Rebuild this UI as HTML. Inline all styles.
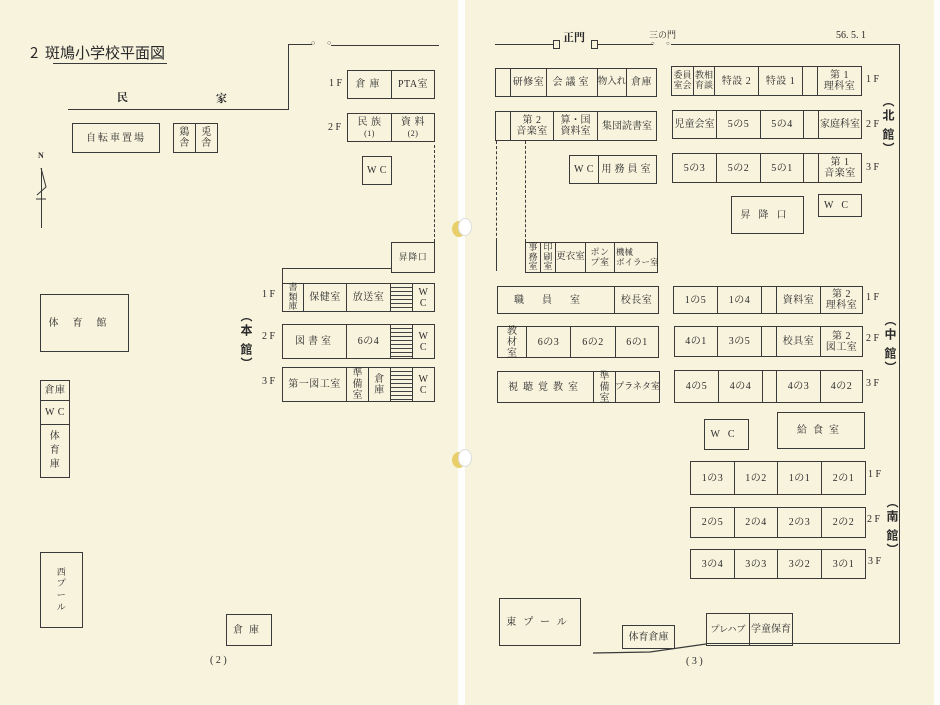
<!DOCTYPE html>
<html><head><meta charset="utf-8">
<style>
*{margin:0;padding:0;box-sizing:border-box}
body{width:940px;height:705px;position:relative;overflow:hidden;background:#f7f3dd;font-family:"Liberation Serif","Noto Serif CJK SC",serif;color:#2a2a2a}
.c{position:absolute;border:1.2px solid #3a3a3a;display:flex;align-items:center;justify-content:center;text-align:center;font-size:10px;line-height:1.1;letter-spacing:0.5px;white-space:nowrap}
.t{position:absolute;font-size:10px;white-space:nowrap;line-height:1}
.h{position:absolute;height:0;border-top:1.2px solid #3a3a3a}
.v{position:absolute;width:0;border-left:1.2px solid #3a3a3a}
.dv{position:absolute;width:0;border-left:1.2px dashed #3a3a3a}
.st{background:repeating-linear-gradient(#f7f3dd 0 3px,#444 3px 4px)}
.vt{position:absolute;writing-mode:vertical-rl;font-size:12px;font-weight:bold;letter-spacing:2px;font-family:"Noto Sans CJK SC",sans-serif}
.s{font-size:8px}
</style></head><body>
<div style="position:absolute;left:458px;top:0;width:7px;height:705px;background:#fdfdfb"></div>
<div style="position:absolute;left:934px;top:0;width:6px;height:705px;background:#fdfdfb"></div>
<div style="position:absolute;left:452px;top:221px;width:14px;height:16px;border-radius:50%;background:#e8cf6a"></div>
<div style="position:absolute;left:458px;top:218px;width:14px;height:18px;border-radius:50%;background:#fff;border:1px solid #ddd"></div>
<div style="position:absolute;left:452px;top:452px;width:14px;height:16px;border-radius:50%;background:#e8cf6a"></div>
<div style="position:absolute;left:458px;top:449px;width:14px;height:18px;border-radius:50%;background:#fff;border:1px solid #ddd"></div>

<!-- LEFT PAGE -->
<div class="t" style="left:30px;top:45px;font-size:15px;font-family:'Noto Sans CJK SC',sans-serif">2&nbsp;&nbsp;斑鳩小学校平面図</div>
<div class="h" style="left:53px;top:63px;width:114px"></div>
<div class="h" style="left:68px;top:109px;width:221px"></div>
<div class="v" style="left:288px;top:44px;height:66px"></div>
<div class="h" style="left:288px;top:44px;width:24px"></div>
<div class="t" style="left:311px;top:40px;font-size:7px">○</div>
<div class="t" style="left:327px;top:40px;font-size:7px">○</div>
<div class="h" style="left:331px;top:45px;width:108px"></div>
<div class="t" style="left:117px;top:93px;font-size:11px;font-weight:bold">民</div>
<div class="t" style="left:216px;top:94px;font-size:11px;font-weight:bold">家</div>
<div class="c" style="left:72px;top:123px;width:88px;height:30px;letter-spacing:2px">自転車置場</div>
<div class="c" style="left:173px;top:123px;width:23px;height:30px">鶏<br>舎</div>
<div class="c" style="left:195px;top:123px;width:23px;height:30px">兎<br>舎</div>
<div class="t" style="left:38px;top:152px;font-size:8px;font-weight:bold">N</div>
<div class="v" style="left:41px;top:168px;height:60px"></div>
<svg style="position:absolute;left:34px;top:165px" width="16" height="40"><polyline points="7,3 12,22 3,30" fill="none" stroke="#333" stroke-width="1"/><line x1="2" y1="34" x2="12" y2="34" stroke="#333"/></svg>

<div class="t" style="left:329px;top:79px">1 F</div>
<div class="c" style="left:347px;top:70px;width:45px;height:29px;letter-spacing:4px">倉庫</div>
<div class="c" style="left:391px;top:70px;width:44px;height:29px">PTA室</div>
<div class="t" style="left:328px;top:123px">2 F</div>
<div class="c" style="left:347px;top:113px;width:45px;height:29px"><div>民 族<br><span class="s">(1)</span></div></div>
<div class="c" style="left:391px;top:113px;width:44px;height:29px"><div>資 料<br><span class="s">(2)</span></div></div>
<div class="c" style="left:362px;top:156px;width:30px;height:29px">W C</div>
<div class="dv" style="left:434px;top:145px;height:97px"></div>
<div class="c" style="left:391px;top:242px;width:44px;height:31px;font-size:9px">昇降口</div>
<div class="h" style="left:282px;top:268px;width:109px"></div>
<div class="v" style="left:282px;top:268px;height:20px"></div>

<div class="t" style="left:262px;top:290px">1 F</div>
<div class="c" style="left:282px;top:283px;width:22px;height:29px;font-size:9px;letter-spacing:0">書<br>類<br>庫</div>
<div class="c" style="left:303px;top:283px;width:44px;height:29px">保健室</div>
<div class="c" style="left:346px;top:283px;width:45px;height:29px">放送室</div>
<div class="c st" style="left:390px;top:283px;width:23px;height:29px"></div>
<div class="c" style="left:412px;top:283px;width:23px;height:29px">W<br>C</div>

<div class="vt" style="left:238px;top:310px">︵本&nbsp;館︶</div>

<div class="t" style="left:262px;top:332px">2 F</div>
<div class="c" style="left:282px;top:324px;width:65px;height:35px;letter-spacing:3px">図書室</div>
<div class="c" style="left:346px;top:324px;width:45px;height:35px">6の4</div>
<div class="c st" style="left:390px;top:324px;width:23px;height:35px"></div>
<div class="c" style="left:412px;top:324px;width:23px;height:35px">W<br>C</div>

<div class="t" style="left:262px;top:377px">3 F</div>
<div class="c" style="left:282px;top:367px;width:65px;height:35px">第一図工室</div>
<div class="c" style="left:346px;top:367px;width:23px;height:35px;letter-spacing:0">準<br>備<br>室</div>
<div class="c" style="left:368px;top:367px;width:23px;height:35px">倉<br>庫</div>
<div class="c st" style="left:390px;top:367px;width:23px;height:35px"></div>
<div class="c" style="left:412px;top:367px;width:23px;height:35px">W<br>C</div>

<div class="c" style="left:40px;top:294px;width:89px;height:58px;letter-spacing:14px">体育館</div>
<div class="c" style="left:40px;top:380px;width:30px;height:21px">倉庫</div>
<div class="c" style="left:40px;top:400px;width:30px;height:25px">W C</div>
<div class="c" style="left:40px;top:424px;width:30px;height:54px;line-height:1.4">体<br>育<br>庫</div>
<div class="c" style="left:40px;top:552px;width:43px;height:76px;font-size:9px;line-height:1.3">西<br>プ<br>ー<br>ル</div>
<div class="c" style="left:226px;top:614px;width:46px;height:32px;letter-spacing:6px">倉庫</div>
<div class="t" style="left:210px;top:656px">( 2 )</div>

<!-- RIGHT PAGE -->
<div class="h" style="left:495px;top:44px;width:58px"></div>
<div class="c" style="left:553px;top:40px;width:7px;height:9px"></div>
<div class="t" style="left:563px;top:33px;font-size:11px;font-weight:bold">正門</div>
<div class="c" style="left:591px;top:40px;width:7px;height:9px"></div>
<div class="h" style="left:598px;top:44px;width:55px"></div>
<div class="t" style="left:651px;top:41px;font-size:6px">○</div>
<div class="t" style="left:649px;top:31px;font-size:9px">三の門</div>
<div class="t" style="left:666px;top:41px;font-size:6px">○</div>
<div class="h" style="left:671px;top:44px;width:228px"></div>
<div class="v" style="left:899px;top:44px;height:600px"></div>
<div class="h" style="left:706px;top:643px;width:194px"></div>
<svg style="position:absolute;left:590px;top:640px" width="120" height="16"><polyline points="3,13 60,12 116,4" fill="none" stroke="#3a3a3a" stroke-width="1.2"/></svg>
<div class="t" style="left:836px;top:31px">56.&nbsp;5.&nbsp;1</div>

<div class="c" style="left:495px;top:68px;width:16px;height:29px"></div>
<div class="c" style="left:510px;top:68px;width:37px;height:29px">研修室</div>
<div class="c" style="left:546px;top:68px;width:52px;height:29px;letter-spacing:3px">会議室</div>
<div class="c" style="left:597px;top:68px;width:30px;height:29px;letter-spacing:0;font-size:9.5px">物入れ</div>
<div class="c" style="left:626px;top:68px;width:31px;height:29px">倉庫</div>
<div class="c" style="left:671px;top:66px;width:23px;height:30px;font-size:9px;letter-spacing:0">委員<br>室会</div>
<div class="c" style="left:693px;top:66px;width:22px;height:30px;font-size:9px;letter-spacing:0">教相<br>育談</div>
<div class="c" style="left:714px;top:66px;width:45px;height:30px">特設 2</div>
<div class="c" style="left:758px;top:66px;width:45px;height:30px">特設 1</div>
<div class="c" style="left:802px;top:66px;width:16px;height:30px"></div>
<div class="c" style="left:817px;top:66px;width:45px;height:30px">第 1<br>理科室</div>
<div class="t" style="left:866px;top:75px">1 F</div>

<div class="c" style="left:495px;top:111px;width:16px;height:30px"></div>
<div class="c" style="left:510px;top:111px;width:44px;height:30px">第 2<br>音楽室</div>
<div class="c" style="left:553px;top:111px;width:45px;height:30px;letter-spacing:0">算・国<br>資料室</div>
<div class="c" style="left:597px;top:111px;width:60px;height:30px;letter-spacing:0">集団読書室</div>
<div class="c" style="left:672px;top:110px;width:45px;height:29px;letter-spacing:0">児童会室</div>
<div class="c" style="left:716px;top:110px;width:45px;height:29px">5の5</div>
<div class="c" style="left:760px;top:110px;width:44px;height:29px">5の4</div>
<div class="c" style="left:803px;top:110px;width:16px;height:29px"></div>
<div class="c" style="left:818px;top:110px;width:44px;height:29px;letter-spacing:0">家庭科室</div>
<div class="t" style="left:866px;top:120px">2 F</div>
<div class="vt" style="left:880px;top:95px">︵北&nbsp;館︶</div>

<div class="dv" style="left:496px;top:141px;height:100px"></div>
<div class="dv" style="left:525px;top:141px;height:101px"></div>
<div class="v" style="left:496px;top:240px;height:31px"></div>

<div class="c" style="left:569px;top:155px;width:30px;height:29px">W C</div>
<div class="c" style="left:598px;top:155px;width:59px;height:29px;letter-spacing:3px">用務員室</div>
<div class="c" style="left:672px;top:153px;width:45px;height:30px">5の3</div>
<div class="c" style="left:716px;top:153px;width:45px;height:30px">5の2</div>
<div class="c" style="left:760px;top:153px;width:44px;height:30px">5の1</div>
<div class="c" style="left:803px;top:153px;width:16px;height:30px"></div>
<div class="c" style="left:818px;top:153px;width:44px;height:30px">第 1<br>音楽室</div>
<div class="t" style="left:866px;top:163px">3 F</div>

<div class="c" style="left:731px;top:196px;width:73px;height:38px;letter-spacing:8px">昇降口</div>
<div class="c" style="left:818px;top:194px;width:44px;height:23px;letter-spacing:8px">WC</div>

<div class="c" style="left:525px;top:242px;width:16px;height:31px;font-size:9px;letter-spacing:0">事<br>務<br>室</div>
<div class="c" style="left:540px;top:242px;width:16px;height:31px;font-size:9px;letter-spacing:0">印<br>刷<br>室</div>
<div class="c" style="left:555px;top:242px;width:31px;height:31px;letter-spacing:0;font-size:9.5px">更衣室</div>
<div class="c" style="left:585px;top:242px;width:30px;height:31px;font-size:9px">ポン<br>プ室</div>
<div class="c" style="left:614px;top:242px;width:44px;height:31px;font-size:8.5px;letter-spacing:0;text-align:left;justify-content:flex-start;padding-left:1px">機械<br>ボイラー室</div>

<div class="c" style="left:497px;top:286px;width:118px;height:28px;letter-spacing:18px">職員室</div>
<div class="c" style="left:614px;top:286px;width:45px;height:28px">校長室</div>
<div class="c" style="left:673px;top:286px;width:45px;height:28px">1の5</div>
<div class="c" style="left:717px;top:286px;width:45px;height:28px">1の4</div>
<div class="c" style="left:761px;top:286px;width:16px;height:28px"></div>
<div class="c" style="left:776px;top:286px;width:45px;height:28px">資料室</div>
<div class="c" style="left:820px;top:286px;width:43px;height:28px">第 2<br>理科室</div>
<div class="t" style="left:866px;top:293px">1 F</div>

<div class="c" style="left:497px;top:326px;width:30px;height:32px;letter-spacing:0">教<br>材<br>室</div>
<div class="c" style="left:526px;top:326px;width:45px;height:32px">6の3</div>
<div class="c" style="left:570px;top:326px;width:46px;height:32px">6の2</div>
<div class="c" style="left:615px;top:326px;width:44px;height:32px">6の1</div>
<div class="c" style="left:674px;top:326px;width:44px;height:31px">4の1</div>
<div class="c" style="left:717px;top:326px;width:45px;height:31px">3の5</div>
<div class="c" style="left:761px;top:326px;width:16px;height:31px"></div>
<div class="c" style="left:776px;top:326px;width:45px;height:31px">校具室</div>
<div class="c" style="left:820px;top:326px;width:43px;height:31px">第 2<br>図工室</div>
<div class="t" style="left:866px;top:334px">2 F</div>
<div class="vt" style="left:882px;top:314px">︵中&nbsp;館︶</div>

<div class="c" style="left:497px;top:371px;width:97px;height:32px;letter-spacing:5px">視聴覚教室</div>
<div class="c" style="left:593px;top:371px;width:23px;height:32px;letter-spacing:0">準<br>備<br>室</div>
<div class="c" style="left:615px;top:371px;width:45px;height:32px;letter-spacing:0;font-size:9px">プラネタ室</div>
<div class="c" style="left:674px;top:370px;width:45px;height:33px">4の5</div>
<div class="c" style="left:718px;top:370px;width:45px;height:33px">4の4</div>
<div class="c" style="left:762px;top:370px;width:15px;height:33px"></div>
<div class="c" style="left:776px;top:370px;width:45px;height:33px">4の3</div>
<div class="c" style="left:820px;top:370px;width:43px;height:33px">4の2</div>
<div class="t" style="left:866px;top:379px">3 F</div>

<div class="c" style="left:704px;top:419px;width:45px;height:31px;letter-spacing:8px">WC</div>
<div class="c" style="left:777px;top:412px;width:88px;height:37px;letter-spacing:6px">給食室</div>

<div class="c" style="left:690px;top:461px;width:45px;height:34px">1の3</div>
<div class="c" style="left:734px;top:461px;width:44px;height:34px">1の2</div>
<div class="c" style="left:777px;top:461px;width:45px;height:34px">1の1</div>
<div class="c" style="left:821px;top:461px;width:45px;height:34px">2の1</div>
<div class="t" style="left:868px;top:470px">1 F</div>
<div class="c" style="left:690px;top:507px;width:45px;height:31px">2の5</div>
<div class="c" style="left:734px;top:507px;width:44px;height:31px">2の4</div>
<div class="c" style="left:777px;top:507px;width:45px;height:31px">2の3</div>
<div class="c" style="left:821px;top:507px;width:45px;height:31px">2の2</div>
<div class="t" style="left:867px;top:515px">2 F</div>
<div class="vt" style="left:884px;top:496px">︵南&nbsp;館︶</div>
<div class="c" style="left:690px;top:549px;width:45px;height:30px">3の4</div>
<div class="c" style="left:734px;top:549px;width:44px;height:30px">3の3</div>
<div class="c" style="left:777px;top:549px;width:45px;height:30px">3の2</div>
<div class="c" style="left:821px;top:549px;width:45px;height:30px">3の1</div>
<div class="t" style="left:868px;top:557px">3 F</div>

<div class="c" style="left:499px;top:598px;width:82px;height:48px;letter-spacing:7px">東プール</div>
<div class="c" style="left:622px;top:625px;width:53px;height:24px;letter-spacing:0">体育倉庫</div>
<div class="c" style="left:706px;top:613px;width:44px;height:33px;font-size:9px;letter-spacing:0">プレハブ</div>
<div class="c" style="left:749px;top:613px;width:44px;height:33px;letter-spacing:0">学童保育</div>
<div class="t" style="left:686px;top:657px">( 3 )</div>
</body></html>
